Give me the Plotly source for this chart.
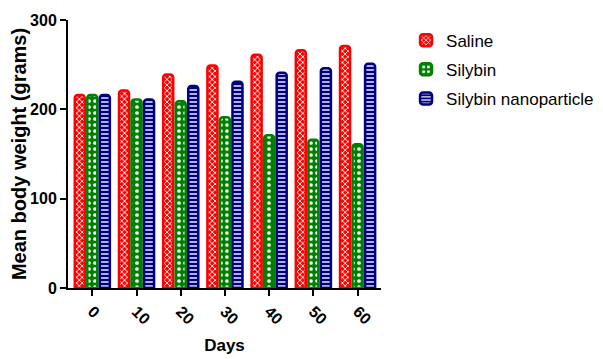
import plotly.graph_objects as go

days = ["0", "10", "20", "30", "40", "50", "60"]
saline = [216, 221, 239, 249, 261, 266, 271]
silybin = [216, 211, 209, 191, 171, 166, 161]
nano = [216, 211, 226, 231, 241, 246, 251]
y_ticks = [0, 100, 200, 300]

series = [
    ("Saline", saline, "#ff0000", "x", 4, 0.4),
    ("Silybin", silybin, "#008000", ".", 6, 0.3),
    ("Silybin nanoparticle", nano, "#000080", "-", 4, 0.35),
]

fig = go.Figure()
for name, vals, col, shape, size, sol in series:
    fig.add_trace(go.Bar(
        x=days, y=vals, name=name, legendgroup=name,
        marker=dict(color=col, line=dict(color=col, width=2.5),
                    pattern=dict(shape=shape, fgcolor="white", bgcolor=col,
                                 size=size, solidity=sol, fillmode="replace")),
    ))

fig.update_layout(
    width=603, height=359,
    margin=dict(l=60, r=223, t=12, b=79),
    paper_bgcolor="white", plot_bgcolor="white",
    barmode="group", bargap=0.15, bargroupgap=0.2,
    barcornerradius=3,
    font=dict(family="Liberation Sans, Arial", color="black"),
    showlegend=True,
    legend=dict(x=1.08, y=0.99, xanchor="left", yanchor="top",
                font=dict(size=17, color="black"), tracegroupgap=4,
                itemwidth=30),
    xaxis=dict(
        type="category", range=[-0.55, 6.53], automargin=False,
        showline=True, linecolor="black", linewidth=2,
        ticks="outside", ticklen=6, tickwidth=2, tickcolor="black",
        tickangle=45, tickfont=dict(size=16),
        title=dict(text="<b>Days</b>", font=dict(size=17), standoff=12),
        showgrid=False,
    ),
    yaxis=dict(
        range=[0, 300], tickvals=y_ticks, automargin=False,
        ticktext=[f"<b>{v}</b>" for v in y_ticks],
        showline=True, linecolor="black", linewidth=2,
        ticks="outside", ticklen=6, tickwidth=2, tickcolor="black",
        tickfont=dict(size=16),
        title=dict(text="<b>Mean body weight (grams)</b>", font=dict(size=20), standoff=0),
        showgrid=False, zeroline=False,
    ),
)
fig.update_xaxes(ticktext=[f"<b>{d}</b>" for d in days], tickvals=days)

fig.write_html("out.html")
